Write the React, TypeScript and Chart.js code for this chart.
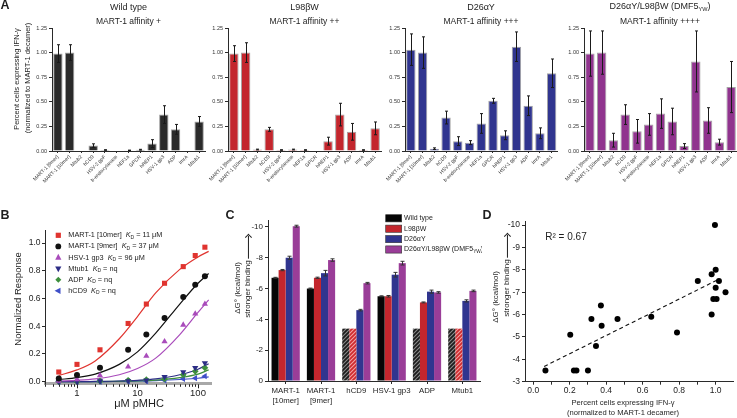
import React, { useEffect, useRef } from 'react';
import { Chart, registerables } from 'chart.js';

Chart.register(...registerables);

const FONT = '"Liberation Sans", Arial, Helvetica, sans-serif';
Chart.defaults.font.family = FONT;
Chart.defaults.color = '#222';

// ---------------- Panel A data ----------------
const peptides = ['MART-1 [9mer]', 'MART-1 [10mer]', 'Mtub2', 'hCD9', 'HSV-2 gpF', 'b-endoxylanase', 'hEF1a', 'GPCR', 'hREP1', 'HSV-1 gp3', 'ADP', 'ImrA', 'Mtub1'];
const wtIfn = [0.99, 1.0, 0.0, 0.055, 0.01, 0.0, 0.007, 0.013, 0.075, 0.37, 0.22, 0.0, 0.3];
const wtIfnErr = [0.09, 0.08, 0, 0.018, 0.003, 0, 0.002, 0.004, 0.04, 0.09, 0.05, 0, 0.05];
const l98Ifn = [0.99, 1.0, 0.015, 0.22, 0.01, 0.015, 0.01, 0.0, 0.1, 0.37, 0.195, 0.01, 0.23];
const l98IfnErr = [0.08, 0.1, 0.004, 0.02, 0.003, 0.004, 0.003, 0, 0.04, 0.115, 0.085, 0.003, 0.065];
const d26Ifn = [1.03, 1.0, 0.024, 0.34, 0.1, 0.085, 0.28, 0.51, 0.16, 1.06, 0.46, 0.18, 0.79];
const d26IfnErr = [0.16, 0.16, 0.008, 0.065, 0.045, 0.02, 0.1, 0.025, 0.045, 0.15, 0.1, 0.055, 0.145];
const dmf5Ifn = [0.99, 1.0, 0.11, 0.37, 0.2, 0.27, 0.38, 0.3, 0.05, 0.91, 0.31, 0.09, 0.65];
const dmf5IfnErr = [0.23, 0.22, 0.07, 0.1, 0.12, 0.11, 0.15, 0.135, 0.025, 0.31, 0.13, 0.03, 0.26];
const aTicks = [0, 0.25, 0.5, 0.75, 1, 1.25];

// ---------------- Panel B data ----------------
const bNames = ['MART-1 [10mer]', 'MART-1 [9mer]', 'HSV-1 gp3', 'Mtub1', 'ADP', 'hCD9'];
const bKd = ['11 μM', '37 μM', '96 μM', 'nq', 'nq', 'nq'];
const bConc = [0.5, 1, 2.4, 7, 14, 28, 57, 90, 130];
const bMart10 = [0.07, 0.125, 0.23, 0.42, 0.56, 0.71, 0.83, 0.91, 0.97];
const bMart9 = [0.024, 0.048, 0.1, 0.23, 0.34, 0.46, 0.61, 0.7, 0.76];
const bHsv = [0.005, 0.017, 0.045, 0.108, 0.185, 0.29, 0.41, 0.49, 0.56];
const bMtub1 = [0.0, 0.0, 0.004, 0.005, 0.01, 0.035, 0.07, 0.1, 0.135];
const bAdp = [0.0, 0.0, 0.005, 0.01, 0.015, 0.02, 0.05, 0.075, 0.1];
const bHcd9 = [0.0, 0.0, 0.0, 0.004, 0.005, 0.01, 0.02, 0.025, 0.04];
const fitConc = [0.5, 1, 2, 5, 10, 20, 50, 100, 150];
const fitMart10 = [0.045, 0.085, 0.15, 0.31, 0.47, 0.64, 0.81, 0.9, 0.94];
const fitMart9 = [0.015, 0.03, 0.055, 0.125, 0.215, 0.35, 0.56, 0.71, 0.78];
const fitHsv = [0.005, 0.01, 0.02, 0.05, 0.095, 0.17, 0.34, 0.5, 0.59];
const fitMtub1 = [0.0, 0.0, 0.002, 0.005, 0.01, 0.02, 0.05, 0.09, 0.13];
const fitAdp = [0.0, 0.0, 0.0, 0.003, 0.006, 0.012, 0.03, 0.055, 0.085];
const fitHcd9 = [0.0, 0.0, 0.0, 0.002, 0.004, 0.008, 0.016, 0.025, 0.035];
const bYTicks = [0, 0.2, 0.4, 0.6, 0.8, 1.0];
const bXTicks = [0.3, 0.4, 0.5, 0.6, 0.7, 0.8, 0.9, 1, 2, 3, 4, 5, 6, 7, 8, 9, 10, 20, 30, 40, 50, 60, 70, 80, 90, 100];
const bXLabeled = [1, 10, 100];

// ---------------- Panel C data ----------------
const cPeptides = [['MART-1', '[10mer]'], ['MART-1', '[9mer]'], 'hCD9', 'HSV-1 gp3', 'ADP', 'Mtub1'];
const wtDG = [-6.7, -6.0, -3.4, -5.5, -3.4, -3.4];
const wtDGErr = [0.03, 0.03, 0, 0.03, 0, 0];
const wtNq = [false, false, true, false, true, true];
const l98DG = [-7.2, -6.7, -3.4, -5.5, -5.1, -3.4];
const l98DGErr = [0.04, 0.04, 0, 0.05, 0.03, 0];
const l98Nq = [false, false, true, false, false, true];
const d26DG = [-8.0, -7.0, -4.6, -6.9, -5.8, -5.2];
const d26DGErr = [0.1, 0.18, 0.05, 0.15, 0.1, 0.07];
const dmf5DG = [-10.05, -7.85, -6.35, -7.65, -5.75, -5.85];
const dmf5DGErr = [0.06, 0.08, 0.05, 0.12, 0.05, 0.05];
const cYTicks = [0, -2, -4, -6, -8, -10];

// ---------------- Panel D data ----------------
const dIfn = [0.067, 0.203, 0.223, 0.237, 0.3, 0.319, 0.344, 0.371, 0.375, 0.462, 0.647, 0.788, 0.902, 0.978, 0.978, 0.996, 1.0, 1.0, 0.987, 1.005, 1.018, 1.054];
const dDG = [-3.5, -5.1, -3.5, -3.5, -3.5, -5.8, -4.6, -6.4, -5.5, -5.8, -5.9, -5.2, -7.5, -6.0, -7.8, -10.0, -8.0, -7.2, -6.7, -6.7, -7.5, -7.0];
const dFitX = [0.06, 1.02];
const dFitY = [-3.68, -7.59];
const dXTicks = [0, 0.1, 0.2, 0.3, 0.4, 0.5, 0.6, 0.7, 0.8, 0.9, 1.0];
const dYTicks = [-3, -4, -5, -6, -7, -8, -9, -10];

// ---------------- helpers ----------------
const AX = '#2a2a2a';

const errorBarPlugin = {
  id: 'errorBars',
  afterDatasetsDraw(chart: any) {
    const ctx = chart.ctx;
    const ys = chart.scales.y;
    chart.data.datasets.forEach((ds: any, i: number) => {
      if (!ds.errors) return;
      const meta = chart.getDatasetMeta(i);
      meta.data.forEach((bar: any, j: number) => {
        const e = ds.errors[j];
        if (!e) return;
        const v = ds.data[j];
        const y1 = ys.getPixelForValue(v - e);
        const y2 = ys.getPixelForValue(v + e);
        const x = Math.round(bar.x) + 0.5;
        const cw = ds.capWidth || 3;
        ctx.save();
        ctx.strokeStyle = ds.errorColor || '#1a1a1a';
        ctx.lineWidth = 1;
        ctx.beginPath();
        ctx.moveTo(x, y1); ctx.lineTo(x, y2);
        ctx.moveTo(x - cw / 2, y1); ctx.lineTo(x + cw / 2, y1);
        ctx.moveTo(x - cw / 2, y2); ctx.lineTo(x + cw / 2, y2);
        ctx.stroke();
        ctx.restore();
      });
    });
  },
};

function drawSegments(ctx: any, x: number, y: number, segs: any[], size: number, color: string) {
  let cx = x;
  ctx.save();
  ctx.fillStyle = color;
  ctx.textBaseline = 'middle';
  ctx.textAlign = 'left';
  for (const [t, k] of segs) {
    const fs = k === 's' ? size * 0.68 : size;
    ctx.font = `${k === 'i' ? 'italic ' : ''}${fs}px ${FONT}`;
    ctx.fillText(t, cx, k === 's' ? y + size * 0.28 : y);
    cx += ctx.measureText(t).width;
  }
  ctx.restore();
}

function drawMarker(ctx: any, shape: string, x: number, y: number, r: number, color: string) {
  ctx.save();
  ctx.fillStyle = color;
  ctx.beginPath();
  if (shape === 'square') ctx.rect(x - r, y - r, 2 * r, 2 * r);
  else if (shape === 'circle') ctx.arc(x, y, r, 0, Math.PI * 2);
  else if (shape === 'up') { ctx.moveTo(x, y - r * 1.2); ctx.lineTo(x + r, y + r * 0.7); ctx.lineTo(x - r, y + r * 0.7); ctx.closePath(); }
  else if (shape === 'down') { ctx.moveTo(x, y + r * 1.2); ctx.lineTo(x + r, y - r * 0.7); ctx.lineTo(x - r, y - r * 0.7); ctx.closePath(); }
  else if (shape === 'left') { ctx.moveTo(x - r * 1.2, y); ctx.lineTo(x + r * 0.7, y - r); ctx.lineTo(x + r * 0.7, y + r); ctx.closePath(); }
  else if (shape === 'diamond') { ctx.moveTo(x, y - r); ctx.lineTo(x + r, y); ctx.lineTo(x, y + r); ctx.lineTo(x - r, y); ctx.closePath(); }
  ctx.fill();
  ctx.restore();
}

function makeHatch(bg: string, fg: string) {
  const c = document.createElement('canvas');
  c.width = 4; c.height = 4;
  const g = c.getContext('2d')!;
  g.fillStyle = bg; g.fillRect(0, 0, 4, 4);
  g.strokeStyle = fg; g.lineWidth = 1.1;
  g.beginPath();
  g.moveTo(0, 4); g.lineTo(4, 0);
  g.moveTo(-1, 1); g.lineTo(1, -1);
  g.moveTo(3, 5); g.lineTo(5, 3);
  g.stroke();
  return g.createPattern(c, 'repeat');
}

const baseOpts = {
  animation: false,
  responsive: false,
  maintainAspectRatio: false,
  events: [],
  plugins: { legend: { display: false }, tooltip: { enabled: false }, title: { display: false } },
};

// ---------------- Panel A ----------------
function buildA(values: number[], errors: number[], color: string, yWidth: number, padRight: number) {
  return () => ({
    type: 'bar',
    data: {
      labels: peptides,
      datasets: [{
        data: values, errors, backgroundColor: color, borderColor: '#a3a3a3', borderWidth: 1,
        borderSkipped: 'bottom', barPercentage: 0.8, categoryPercentage: 1, capWidth: 3,
      }],
    },
    options: {
      ...baseOpts,
      layout: { padding: { top: 28, right: padRight, bottom: 0, left: 0 } },
      scales: {
        x: {
          offset: true,
          grid: { display: true, drawOnChartArea: false, drawTicks: true, tickLength: 2, color: AX, offset: false },
          border: { color: AX, width: 1 },
          ticks: { autoSkip: false, minRotation: 45, maxRotation: 45, padding: 1, font: { size: 5, family: FONT }, color: '#333' },
          afterFit: (s: any) => { s.height = 34; },
        },
        y: {
          min: 0, max: 1.25,
          afterBuildTicks: (s: any) => { s.ticks = aTicks.map((v) => ({ value: v })); },
          ticks: { callback: (v: any) => Number(v).toFixed(2), font: { size: 5.5, family: FONT }, padding: 2, color: '#333' },
          grid: { display: true, drawOnChartArea: false, drawTicks: true, tickLength: 3, color: AX },
          border: { color: AX, width: 1 },
          afterFit: (s: any) => { s.width = yWidth; },
        },
      },
    },
    plugins: [errorBarPlugin],
  });
}
const buildA1 = buildA(wtIfn, wtIfnErr, '#2b2b2b', 52, 5);
const buildA2 = buildA(l98Ifn, l98IfnErr, '#c3262d', 38, 4);
const buildA3 = buildA(d26Ifn, d26IfnErr, '#30358f', 38, 2.5);
const buildA4 = buildA(dmf5Ifn, dmf5IfnErr, '#90348e', 38, 0);

// ---------------- Panel B ----------------
const bStyles = [
  { color: '#e0342f', ps: 'rect', rot: 0, r: 3.6, leg: 'square', lr: 2.6 },
  { color: '#111111', ps: 'circle', rot: 0, r: 3, leg: 'circle', lr: 2.9 },
  { color: '#a94bbb', ps: 'triangle', rot: 0, r: 3.6, leg: 'up', lr: 3.1 },
  { color: '#2c2d85', ps: 'triangle', rot: 180, r: 3.6, leg: 'down', lr: 3.1 },
  { color: '#3d8f3d', ps: 'rectRot', rot: 0, r: 3.4, leg: 'diamond', lr: 3 },
  { color: '#3f4fc8', ps: 'triangle', rot: 270, r: 3.6, leg: 'left', lr: 3.1 },
];
const bPoints = [bMart10, bMart9, bHsv, bMtub1, bAdp, bHcd9];
const bFits = [fitMart10, fitMart9, fitHsv, fitMtub1, fitAdp, fitHcd9];

const bLegendPlugin = {
  id: 'bLegend',
  afterDraw(chart: any) {
    const ctx = chart.ctx;
    bNames.forEach((name, i) => {
      const y = 25.3 + i * 11.1;
      const st = bStyles[i];
      drawMarker(ctx, st.leg, 58.3, y, st.lr, st.color);
      drawSegments(ctx, 68.3, y, [[name + '  ', 'n'], ['K', 'i'], ['D', 's'], [' = ' + bKd[i], 'n']], 7.3, '#222');
    });
  },
};

const logTickPlugin = {
  id: 'logTicks',
  afterDraw(chart: any) {
    const s = chart.scales.x;
    const ctx = chart.ctx;
    const y0 = chart.chartArea.bottom + 1;
    ctx.save();
    ctx.strokeStyle = '#222';
    ctx.lineWidth = 1;
    s.ticks.forEach((t: any) => {
      const x = Math.round(s.getPixelForValue(t.value)) + 0.5;
      const major = bXLabeled.includes(t.value);
      ctx.beginPath();
      ctx.moveTo(x, y0);
      ctx.lineTo(x, y0 + (major ? 4 : 2.5));
      ctx.stroke();
    });
    ctx.restore();
  },
};

function buildB() {
  const pointSets = bPoints.map((vals, i) => ({
    data: bConc.map((c, k) => ({ x: c, y: vals[k] })),
    showLine: false,
    pointStyle: bStyles[i].ps,
    pointRotation: bStyles[i].rot,
    pointRadius: bStyles[i].r,
    backgroundColor: bStyles[i].color,
    borderColor: bStyles[i].color,
    borderWidth: 0,
    clip: false,
    order: 1,
  }));
  const fitSets = bFits.map((vals, i) => ({
    data: fitConc.map((c, k) => ({ x: c, y: vals[k] })),
    showLine: true,
    pointRadius: 0,
    borderColor: bStyles[i].color,
    borderWidth: 1.2,
    cubicInterpolationMode: 'monotone',
    clip: false,
    order: 2,
  }));
  return {
    type: 'scatter',
    data: { datasets: [...pointSets, ...fitSets] },
    options: {
      ...baseOpts,
      layout: { padding: { top: 20, right: 9, bottom: 0, left: 0 } },
      scales: {
        x: {
          type: 'logarithmic', min: 0.296, max: 164,
          afterBuildTicks: (s: any) => { s.ticks = bXTicks.map((v) => ({ value: v, major: bXLabeled.includes(v) })); },
          ticks: { autoSkip: false, maxRotation: 0, callback: (v: any) => (bXLabeled.includes(v) ? String(v) : ''), font: { size: 9.5, family: FONT }, padding: 4, color: '#222' },
          grid: { display: true, drawOnChartArea: false, drawTicks: false },
          border: { color: '#a8a8a8', width: 3 },
          afterFit: (s: any) => { s.height = 34.7; },
        },
        y: {
          min: -0.0115, max: 1.094,
          afterBuildTicks: (s: any) => { s.ticks = bYTicks.map((v) => ({ value: v })); },
          ticks: { callback: (v: any) => Number(v).toFixed(1), font: { size: 8.5, family: FONT }, padding: 1.5, color: '#222' },
          grid: { display: true, drawOnChartArea: false, drawTicks: true, tickLength: 3, color: AX },
          border: { color: AX, width: 1 },
          afterFit: (s: any) => { s.width = 45; },
        },
      },
    },
    plugins: [bLegendPlugin, logTickPlugin],
  };
}

// ---------------- Panel C ----------------
const cLegend = [
  [['Wild type', 'n']],
  [['L98βW', 'n']],
  [['D26αY', 'n']],
  [['D26αY/L98βW (DMF5', 'n'], ['YW', 's'], [')', 'n']],
];
const cColors = ['#050505', '#c3262d', '#30358f', '#9a3d98'];

const cLegendPlugin = {
  id: 'cLegend',
  afterDraw(chart: any) {
    const ctx = chart.ctx;
    cLegend.forEach((segs, i) => {
      const y = 8.3 + i * 10.4;
      ctx.save();
      ctx.fillStyle = cColors[i];
      ctx.fillRect(180.7, y - 3.6, 16, 7.2);
      ctx.strokeStyle = '#333';
      ctx.lineWidth = 0.6;
      ctx.strokeRect(180.7, y - 3.6, 16, 7.2);
      ctx.restore();
      drawSegments(ctx, 199, y, segs, 7, '#222');
    });
  },
};

function buildC() {
  const hatchWt = makeHatch('#1c1c1c', '#8c8c8c');
  const hatchL98 = makeHatch('#cf2a2e', '#f3a3a3');
  const series = [
    { data: wtDG, errors: wtDGErr, nq: wtNq, color: cColors[0], hatch: hatchWt },
    { data: l98DG, errors: l98DGErr, nq: l98Nq, color: cColors[1], hatch: hatchL98 },
    { data: d26DG, errors: d26DGErr, nq: null, color: cColors[2], hatch: null },
    { data: dmf5DG, errors: dmf5DGErr, nq: null, color: cColors[3], hatch: null },
  ];
  return {
    type: 'bar',
    data: {
      labels: cPeptides,
      datasets: series.map((s) => ({
        data: s.data,
        errors: s.errors,
        capWidth: 4,
        errorColor: '#333',
        backgroundColor: (c: any) => (s.nq && s.nq[c.dataIndex] ? s.hatch : s.color),
        borderWidth: 0,
        categoryPercentage: 0.8,
        barPercentage: 1,
      })),
    },
    options: {
      ...baseOpts,
      layout: { padding: { top: 10, right: 2, bottom: 0, left: 0 } },
      scales: {
        x: {
          offset: true,
          grid: { display: true, drawOnChartArea: false, drawTicks: true, tickLength: 3, color: AX, offset: false },
          border: { color: AX, width: 1 },
          ticks: { autoSkip: false, maxRotation: 0, padding: 2, font: { size: 7.8, family: FONT, lineHeight: 1.28 }, color: '#222' },
          afterFit: (s: any) => { s.height = 37; },
        },
        y: {
          min: -10.45, max: 0, reverse: true,
          afterBuildTicks: (s: any) => { s.ticks = cYTicks.map((v) => ({ value: v })); },
          ticks: { callback: (v: any) => String(v), font: { size: 8, family: FONT }, padding: 2, color: '#222' },
          grid: { display: true, drawOnChartArea: false, drawTicks: true, tickLength: 3, color: AX },
          border: { color: AX, width: 1 },
          afterFit: (s: any) => { s.width = 63; },
        },
      },
    },
    plugins: [errorBarPlugin, cLegendPlugin],
  };
}

// ---------------- Panel D ----------------
function buildD() {
  return {
    type: 'scatter',
    data: {
      datasets: [
        {
          data: dIfn.map((x, i) => ({ x, y: dDG[i] })),
          showLine: false, pointRadius: 3, backgroundColor: '#000', borderColor: '#000', borderWidth: 0, clip: false, order: 1,
        },
        {
          data: dFitX.map((x, i) => ({ x, y: dFitY[i] })),
          showLine: true, pointRadius: 0, borderColor: '#111', borderWidth: 1.1, borderDash: [4, 3], order: 2,
        },
      ],
    },
    options: {
      ...baseOpts,
      layout: { padding: { top: 11.7, right: 2, bottom: 0, left: 0 } },
      scales: {
        x: {
          type: 'linear', min: -0.045, max: 1.095,
          afterBuildTicks: (s: any) => { s.ticks = dXTicks.map((v) => ({ value: v })); },
          ticks: { autoSkip: false, maxRotation: 0, callback: (v: any) => (Math.round(v * 10) % 2 === 0 ? Number(v).toFixed(1) : ''), font: { size: 8.5, family: FONT }, padding: 1, color: '#222' },
          grid: { display: true, drawOnChartArea: false, drawTicks: true, tickLength: 3, color: AX },
          border: { color: AX, width: 1 },
          afterFit: (s: any) => { s.height = 36.3; },
        },
        y: {
          min: -10.15, max: -3, reverse: true,
          afterBuildTicks: (s: any) => { s.ticks = dYTicks.map((v) => ({ value: v })); },
          ticks: { callback: (v: any) => String(v), font: { size: 8.5, family: FONT }, padding: 2, color: '#222' },
          grid: { display: true, drawOnChartArea: false, drawTicks: true, tickLength: 3, color: AX },
          border: { color: AX, width: 1 },
          afterFit: (s: any) => { s.width = 43; },
        },
      },
    },
  };
}

// ---------------- components ----------------
function ChartBox({ left, top, width, height, build }: { left: number; top: number; width: number; height: number; build: () => any }) {
  const ref = useRef<HTMLCanvasElement | null>(null);
  useEffect(() => {
    const c = ref.current;
    if (!c) return;
    const chart = new Chart(c, build());
    return () => chart.destroy();
  }, [build]);
  return <canvas ref={ref} width={width} height={height} style={{ position: 'absolute', left, top, width, height }} />;
}

function T({ x, y, size, rot, bold, italic, children }: any) {
  return (
    <div
      style={{
        position: 'absolute', left: x, top: y,
        transform: `translate(-50%, -50%)${rot ? ' rotate(-90deg)' : ''}`,
        fontSize: size, fontWeight: bold ? 700 : 400, fontStyle: italic ? 'italic' : 'normal',
        lineHeight: 1, whiteSpace: 'nowrap', color: '#1e1e1e',
      }}
    >
      {children}
    </div>
  );
}

function Arrow() {
  return (
    <span style={{ display: 'inline-block', position: 'relative', width: 24, height: 8, verticalAlign: 'middle', marginLeft: 2 }}>
      <span style={{ position: 'absolute', left: 0, right: 1, top: 4, borderTop: '1px solid #1e1e1e' }} />
      <span style={{ position: 'absolute', right: 0.5, top: 2, width: 4, height: 4, borderTop: '1px solid #1e1e1e', borderRight: '1px solid #1e1e1e', transform: 'rotate(45deg)' }} />
    </span>
  );
}

const sub = { fontSize: '0.62em', verticalAlign: '-0.3em' } as const;

export default function App() {
  return (
    <div style={{ position: 'absolute', left: 0, top: 0, width: 737, height: 418, background: '#fff', overflow: 'hidden', fontFamily: FONT }}>
      <ChartBox left={0} top={0} width={210} height={185} build={buildA1} />
      <ChartBox left={190} top={0} width={195} height={185} build={buildA2} />
      <ChartBox left={367} top={0} width={193} height={185} build={buildA3} />
      <ChartBox left={546} top={0} width={191} height={185} build={buildA4} />
      <ChartBox left={0} top={210} width={220} height={208} build={buildB} />
      <ChartBox left={205} top={210} width={277} height={208} build={buildC} />
      <ChartBox left={482} top={210} width={255} height={208} build={buildD} />

      {/* Panel letters */}
      <T x={5} y={5} size={12.5} bold>A</T>
      <T x={5} y={215} size={12.5} bold>B</T>
      <T x={230} y={215} size={12.5} bold>C</T>
      <T x={487} y={215} size={12.5} bold>D</T>

      {/* Panel A titles */}
      <T x={128.5} y={7} size={9}>Wild type</T>
      <T x={128.5} y={21} size={8.5}>MART-1 affinity +</T>
      <T x={304.5} y={7} size={9}>L98βW</T>
      <T x={304.5} y={21} size={8.5}>MART-1 affinity ++</T>
      <T x={481} y={7} size={9}>D26αY</T>
      <T x={481} y={21} size={8.5}>MART-1 affinity +++</T>
      <T x={660} y={7} size={9}>D26αY/L98βW (DMF5<span style={sub}>YW</span>)</T>
      <T x={660} y={21} size={8.5}>MART-1 affinity ++++</T>
      <T x={16.7} y={79} size={7.5} rot>Percent cells expressing IFN-γ</T>
      <T x={28.3} y={78} size={7.5} rot>(normalized to MART-1 decamer)</T>

      {/* Panel B titles */}
      <T x={18} y={298.5} size={9.5} rot>Normalized Response</T>
      <T x={139} y={403} size={11}>μM pMHC</T>

      {/* Panel C titles */}
      <T x={237.5} y={288} size={8} rot>ΔG° (kcal/mol)</T>
      <T x={247.5} y={276} size={8} rot>stronger binding<Arrow /></T>

      {/* Panel D titles */}
      <T x={566} y={237.3} size={10}>R² = 0.67</T>
      <T x={496} y={297} size={8} rot>ΔG° (kcal/mol)</T>
      <T x={506.5} y={275} size={8} rot>stronger binding<Arrow /></T>
      <T x={623} y={402.7} size={7.6}>Percent cells expressing IFN-γ</T>
      <T x={623} y={412.7} size={7.6}>(normalized to MART-1 decamer)</T>
    </div>
  );
}
